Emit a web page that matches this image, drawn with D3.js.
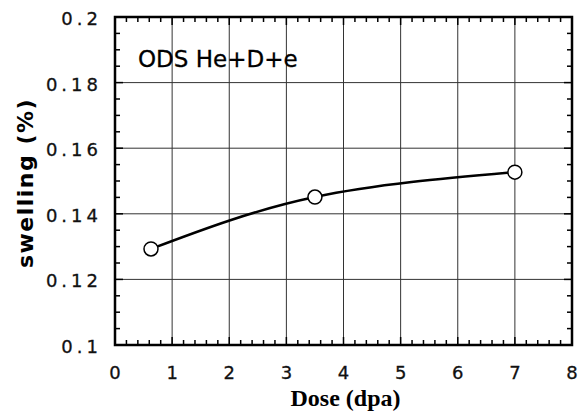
<!DOCTYPE html>
<html>
<head>
    <script src="https://d3js.org/d3.v7.min.js"></script>
    <style>
        body { margin: 0; background: #fff; }
        .tick-label { font-family: "DejaVu Sans", sans-serif; font-size: 18px; fill: #111; stroke: #111; stroke-width: 0.3px; }
    </style>
</head>
<body>
    <svg width="578" height="414"></svg>
    <script>
        // data
        var dose = [0.63, 3.5, 7.0];
        var swelling = [0.1293, 0.1451, 0.1527];
        var xTicks = [0, 1, 2, 3, 4, 5, 6, 7, 8];
        var yTicks = [0.1, 0.12, 0.14, 0.16, 0.18, 0.2];

        var svg = d3.select("svg"),
            margin = {top: 17, right: 6, bottom: 69, left: 115},
            width = +svg.attr("width") - margin.left - margin.right,
            height = +svg.attr("height") - margin.top - margin.bottom;

        var x = d3.scaleLinear().domain([0, 8]).range([0, width]);
        var y = d3.scaleLinear().domain([0.1, 0.2]).range([height, 0]);

        var g = svg.append("g")
            .attr("transform", "translate(" + margin.left + "," + margin.top + ")");

        // grid
        g.selectAll(".vgrid").data(xTicks.slice(1, -1)).enter().append("line")
            .attr("x1", d => x(d)).attr("x2", d => x(d))
            .attr("y1", 0).attr("y2", height)
            .attr("stroke", "#333").attr("stroke-width", 1);
        g.selectAll(".hgrid").data(yTicks.slice(1, -1)).enter().append("line")
            .attr("x1", 0).attr("x2", width)
            .attr("y1", d => y(d)).attr("y2", d => y(d))
            .attr("stroke", "#333").attr("stroke-width", 1);

        // minor ticks, inward on all sides
        var xMinor = d3.range(0, 8.001, 0.2);
        var yMinor = d3.range(0.1, 0.2001, 0.005);
        g.selectAll(".xb").data(xMinor).enter().append("line")
            .attr("x1", d => x(d)).attr("x2", d => x(d))
            .attr("y1", height).attr("y2", (d, i) => height - (i % 5 === 0 ? 8 : 5))
            .attr("stroke", "#000").attr("stroke-width", 1.5);
        g.selectAll(".xt").data(xMinor).enter().append("line")
            .attr("x1", d => x(d)).attr("x2", d => x(d))
            .attr("y1", 0).attr("y2", (d, i) => (i % 5 === 0 ? 8 : 5))
            .attr("stroke", "#000").attr("stroke-width", 1.5);
        g.selectAll(".yl").data(yMinor).enter().append("line")
            .attr("x1", 0).attr("x2", (d, i) => (i % 4 === 0 ? 8 : 5))
            .attr("y1", d => y(d)).attr("y2", d => y(d))
            .attr("stroke", "#000").attr("stroke-width", 1.5);
        g.selectAll(".yr").data(yMinor).enter().append("line")
            .attr("x1", width).attr("x2", (d, i) => width - (i % 4 === 0 ? 8 : 5))
            .attr("y1", d => y(d)).attr("y2", d => y(d))
            .attr("stroke", "#000").attr("stroke-width", 1.5);

        // frame
        g.append("rect")
            .attr("width", width).attr("height", height)
            .attr("fill", "none").attr("stroke", "#000").attr("stroke-width", 2.5);

        // tick labels
        g.selectAll(".xlab").data(xTicks).enter().append("text")
            .attr("class", "tick-label")
            .attr("x", d => x(d)).attr("y", height + 34)
            .attr("text-anchor", "middle")
            .text(d => d);
        g.selectAll(".ylab").data(yTicks).enter().append("text")
            .attr("class", "tick-label")
            .attr("x", -13).attr("y", d => y(d) + 8)
            .attr("text-anchor", "end")
            .style("letter-spacing", "4px")
            .text(d => d3.format("")(+d.toFixed(2)));

        // axis titles
        svg.append("text")
            .attr("x", margin.left + width / 2 + 2).attr("y", 406)
            .attr("text-anchor", "middle")
            .style("font-family", "'Liberation Serif', serif")
            .style("font-weight", "bold").style("font-size", "24px")
            .text("Dose (dpa)");
        svg.append("text")
            .attr("transform", "translate(33,183) rotate(-90)")
            .attr("text-anchor", "middle")
            .style("font-family", "'DejaVu Sans', sans-serif")
            .style("font-weight", "bold").style("font-size", "22px")
            .style("letter-spacing", "1.5px")
            .text("swelling (%)");

        // annotation
        g.append("text")
            .attr("x", 23).attr("y", 50)
            .style("font-family", "'DejaVu Sans', sans-serif")
            .style("font-size", "23px")
            .style("stroke", "#000").style("stroke-width", "0.3px")
            .text("ODS He+D+e");

        // curve and points
        var pts = dose.map((d, i) => [d, swelling[i]]);
        var line = d3.line()
            .x(d => x(d[0])).y(d => y(d[1]))
            .curve(d3.curveNatural);
        g.append("path")
            .datum(pts)
            .attr("d", line)
            .attr("fill", "none").attr("stroke", "#000").attr("stroke-width", 2.5);
        g.selectAll(".pt").data(pts).enter().append("circle")
            .attr("cx", d => x(d[0])).attr("cy", d => y(d[1]))
            .attr("r", 7)
            .attr("fill", "#fff").attr("stroke", "#000").attr("stroke-width", 1.5);
    </script>
</body>
</html>
